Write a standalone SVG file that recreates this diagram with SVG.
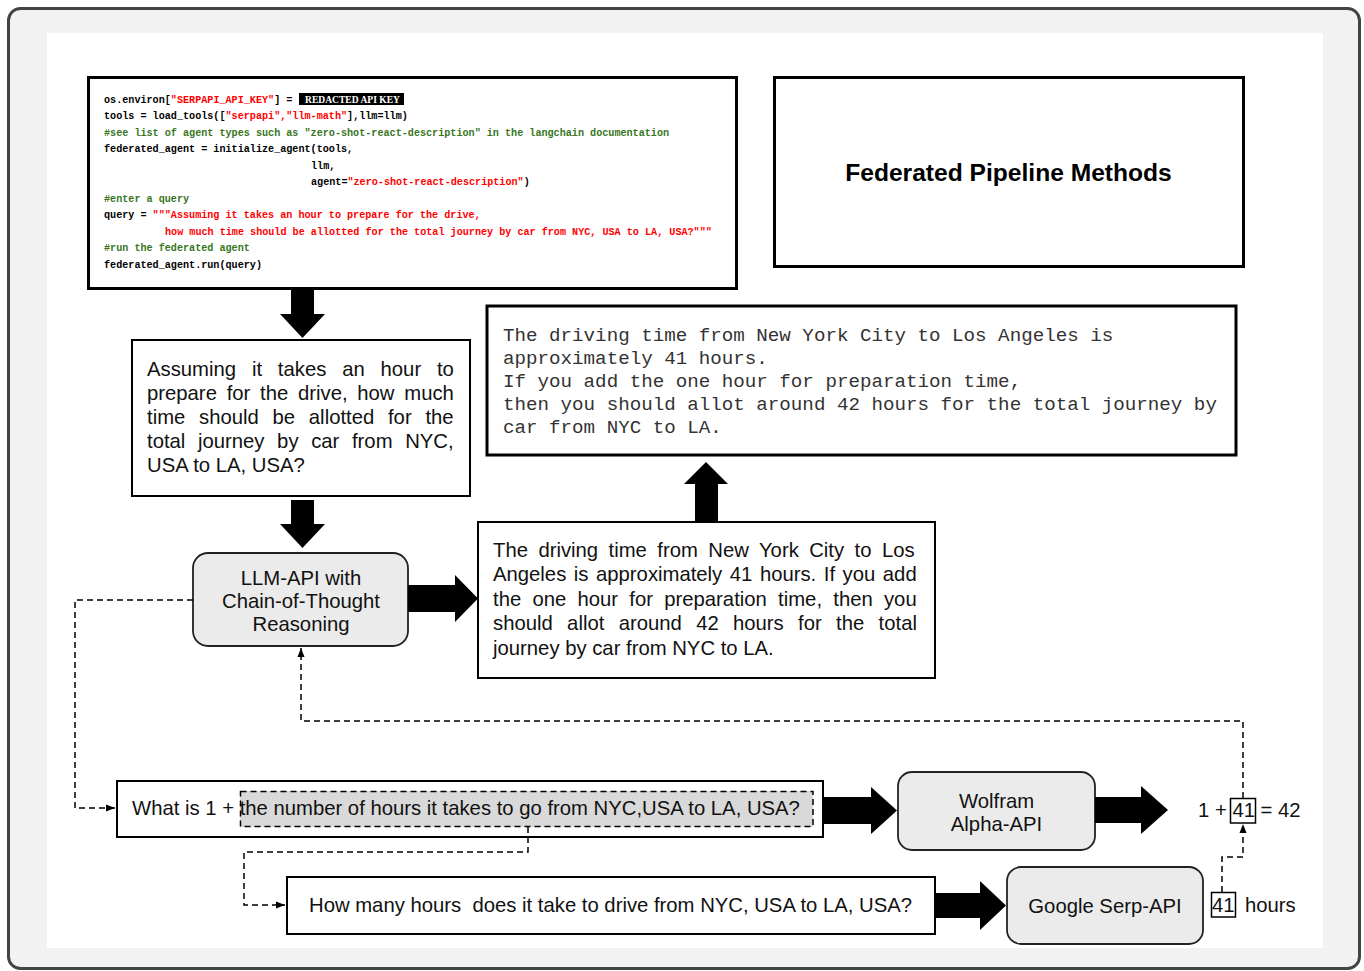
<svg xmlns="http://www.w3.org/2000/svg" width="1364" height="971" viewBox="0 0 1364 971">
<defs>
<style>
.sans{font-family:"Liberation Sans",Arial,sans-serif;font-size:20.3px;fill:#111}
.code{font-family:"Liberation Mono","Courier New",monospace;font-size:10.15px;font-weight:bold;fill:#000}
.r{fill:#ff0000}
.g{fill:#38761d}
.mono{font-family:"Liberation Mono","Courier New",monospace;font-size:19.2px;fill:#333}
.box{fill:#fff;stroke:#000;stroke-width:2}
.thick{fill:#fff;stroke:#000;stroke-width:3}
.rbox{fill:#ebebeb;stroke:#222;stroke-width:1.8}
.dash{fill:none;stroke:#000;stroke-width:1.5;stroke-dasharray:6 4}
.big{fill:#000}
</style>
<marker id="ah" markerUnits="userSpaceOnUse" markerWidth="10" markerHeight="8" refX="9" refY="4" orient="auto">
<path d="M0,0.5 L9,4 L0,7.5 z" fill="#000"/>
</marker>
</defs>

<rect x="8.5" y="8.5" width="1351" height="960" rx="12" fill="#f2f2f2" stroke="#444" stroke-width="3"/>
<rect x="47" y="33" width="1276" height="915" fill="#fff"/>

<g id="code">
<rect class="thick" x="88.5" y="77.5" width="648" height="211"/>
<g xml:space="preserve">
<text class="code" x="104" y="102.5">os.environ[<tspan class="r">"SERPAPI_API_KEY"</tspan>] = </text>
<rect x="299" y="93" width="105" height="12" fill="#000"/>
<text x="305" y="102.5" textLength="95" lengthAdjust="spacingAndGlyphs" style="font-family:'Liberation Serif','Times New Roman',serif;font-size:9.6px;font-weight:bold;fill:#fff">REDACTED API KEY</text>
<text class="code" x="104" y="119">tools = load_tools([<tspan class="r">"serpapi","llm-math"</tspan>],llm=llm)</text>
<text class="code g" x="104" y="135.5">#see list of agent types such as "zero-shot-react-description" in the langchain documentation</text>
<text class="code" x="104" y="152">federated_agent = initialize_agent(tools,</text>
<text class="code" x="311" y="168.5">llm,</text>
<text class="code" x="311" y="185">agent=<tspan class="r">"zero-shot-react-description"</tspan>)</text>
<text class="code g" x="104" y="201.5">#enter a query</text>
<text class="code" x="104" y="218">query = <tspan class="r">"""Assuming it takes an hour to prepare for the drive,</tspan></text>
<text class="code r" x="165" y="234.5">how much time should be allotted for the total journey by car from NYC, USA to LA, USA?"""</text>
<text class="code g" x="104" y="251">#run the federated agent</text>
<text class="code" x="104" y="267.5">federated_agent.run(query)</text>
</g>
</g>

<g id="title">
<rect class="thick" x="774.5" y="77.5" width="469" height="189"/>
<text x="1008.5" y="181" text-anchor="middle" style="font-family:'Liberation Sans',Arial,sans-serif;font-size:24.6px;font-weight:bold;fill:#000">Federated Pipeline Methods</text>
</g>

<g id="question">
<rect class="box" x="132" y="340" width="338" height="156"/>
<text class="sans" x="147" y="376" style="word-spacing:10.2px">Assuming it takes an hour to</text>
<text class="sans" x="147" y="400" style="word-spacing:4.1px">prepare for the drive, how much</text>
<text class="sans" x="147" y="424" style="word-spacing:8.1px">time should be allotted for the</text>
<text class="sans" x="147" y="448" style="word-spacing:7.0px">total journey by car from NYC,</text>
<text class="sans" x="147" y="472">USA to LA, USA?</text>
</g>

<g id="llm">
<rect class="rbox" x="193" y="553" width="215" height="93" rx="15"/>
<text class="sans" x="301" y="585" text-anchor="middle">LLM-API with</text>
<text class="sans" x="301" y="608" text-anchor="middle">Chain-of-Thought</text>
<text class="sans" x="301" y="631" text-anchor="middle">Reasoning</text>
</g>

<g id="answer">
<rect class="box" x="478" y="522" width="457" height="156"/>
<text class="sans" x="493" y="556.5" style="word-spacing:4.8px">The driving time from New York City to Los</text>
<text class="sans" x="493" y="581" style="word-spacing:1.9px">Angeles is approximately 41 hours. If you add</text>
<text class="sans" x="493" y="605.5" style="word-spacing:5.6px">the one hour for preparation time, then you</text>
<text class="sans" x="493" y="630" style="word-spacing:8.7px">should allot around 42 hours for the total</text>
<text class="sans" x="493" y="655">journey by car from NYC to LA.</text>
</g>

<g id="output">
<rect class="thick" x="487" y="306" width="749" height="149"/>
<text class="mono" x="503" y="341">The driving time from New York City to Los Angeles is</text>
<text class="mono" x="503" y="364">approximately 41 hours.</text>
<text class="mono" x="503" y="387">If you add the one hour for preparation time,</text>
<text class="mono" x="503" y="410">then you should allot around 42 hours for the total journey by</text>
<text class="mono" x="503" y="433">car from NYC to LA.</text>
</g>

<g id="whatis">
<rect class="box" x="117" y="781" width="706" height="56"/>
<rect x="240" y="791" width="573" height="36" fill="#d9d9d9"/>
<rect class="dash" x="240.5" y="791.5" width="572.5" height="35"/>
<text class="sans" x="132" y="815">What is 1 + the number of hours it takes to go from NYC,USA to LA, USA?</text>
</g>

<g id="howmany">
<rect class="box" x="287" y="877" width="648" height="57"/>
<text class="sans" x="309" y="912" xml:space="preserve">How many hours  does it take to drive from NYC, USA to LA, USA?</text>
</g>

<g id="wolfram">
<rect class="rbox" x="898" y="772" width="197" height="78" rx="14"/>
<text class="sans" x="996.5" y="808" text-anchor="middle">Wolfram</text>
<text class="sans" x="996.5" y="831" text-anchor="middle">Alpha-API</text>
</g>

<g id="google">
<rect class="rbox" x="1007" y="867" width="196" height="77" rx="14"/>
<text class="sans" x="1105" y="913" text-anchor="middle">Google Serp-API</text>
</g>

<g id="result">
<rect x="1230.5" y="798.5" width="25" height="24.5" fill="none" stroke="#000" stroke-width="1.5"/>
<text class="sans" x="1198" y="817" xml:space="preserve">1 + 41 = 42</text>
</g>

<g id="hours">
<rect x="1211.5" y="892.5" width="24" height="24.5" fill="none" stroke="#000" stroke-width="1.5"/>
<text class="sans" x="1212" y="912">41</text>
<text class="sans" x="1245" y="912">hours</text>
</g>

<g id="connectors">
<polygon class="big" points="291,289 314,289 314,314 325,314 302.5,338 280,314 291,314"/>
<polygon class="big" points="291,500 314,500 314,524 325,524 302.5,548 280,524 291,524"/>
<polygon class="big" points="408,585 455,585 455,575 478,598.5 455,622 455,612 408,612"/>
<polygon class="big" points="695,521 718,521 718,484 728,484 706,462 684,484 695,484"/>
<polygon class="big" points="823,797 871,797 871,787 897,810.5 871,834 871,824 823,824"/>
<polygon class="big" points="1095,797 1141,797 1141,786 1168,810 1141,834 1141,823 1095,823"/>
<polygon class="big" points="935,893 980,893 980,881 1006,905.5 980,930 980,918 935,918"/>
<polyline class="dash" points="193,600 75,600 75,808 115,808" marker-end="url(#ah)"/>
<polyline class="dash" points="528,827 528,852 244,852 244,905 285,905" marker-end="url(#ah)"/>
<polyline class="dash" points="1243,798 1243,721 301,721 301,648" marker-end="url(#ah)"/>
<polyline class="dash" points="1222,892 1222,857 1243,857 1243,824" marker-end="url(#ah)"/>
</g>
</svg>
